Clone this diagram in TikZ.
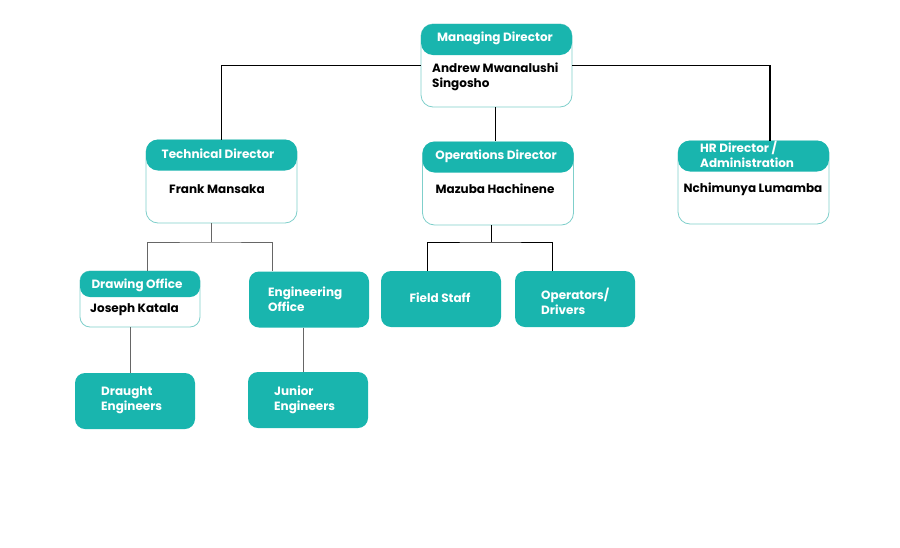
\documentclass[tikz,border=0pt]{standalone}
\usepackage{fontspec}
\setmainfont{Poppins}
\definecolor{teal1}{HTML}{19B5AE}
\definecolor{cardline}{HTML}{7FCFCB}
\definecolor{conn}{HTML}{666666}
\begin{document}
\begin{tikzpicture}[x=1pt,y=-1pt,
  card/.style={draw=cardline, line width=0.8pt, fill=white, rounded corners=12pt, minimum width=151pt, minimum height=83pt, inner sep=0pt},
  head/.style={fill=teal1, rounded corners=12pt, minimum width=151pt, minimum height=31pt, inner sep=0pt},
  smallcard/.style={draw=cardline, line width=0.8pt, fill=white, rounded corners=10pt, minimum width=120pt, minimum height=56pt, inner sep=0pt},
  smallhead/.style={fill=teal1, rounded corners=10pt, minimum width=120pt, minimum height=26pt, inner sep=0pt},
  tealbox/.style={fill=teal1, rounded corners=10pt, minimum width=120pt, minimum height=56pt, inner sep=0pt},
  wtext/.style={text=white, font=\bfseries\fontsize{12}{15}\selectfont, inner sep=0pt, align=left},
  btext/.style={text=black, font=\bfseries\fontsize{12}{15}\selectfont, inner sep=0pt, align=left},
  mainline/.style={draw=black, line width=1.8pt},
  thin/.style={draw=black, line width=1pt},
  subline/.style={draw=conn, line width=1pt}
]
\useasboundingbox (0,0) rectangle (900,547);

% Managing Director
\node[card] (md) at (496.5,65.5) {};
\node[head] (mdh) at (496.5,39.5) {};
\node[wtext] (mdt) at (495,38) {Managing Director};
\node[btext, anchor=west] (mdn) at (432,77) {Andrew Mwanalushi\\Singosho};

% Technical Director
\node[card] (td) at (221.5,181.5) {};
\node[head] (tdh) at (221.5,155) {};
\node[wtext] (tdt) at (218,154) {Technical Director};
\node[btext] (tdn) at (217,189) {Frank Mansaka};

% Operations Director
\node[card] (od) at (498,183.5) {};
\node[head] (odh) at (498,157) {};
\node[wtext] (odt) at (496,156) {Operations Director};
\node[btext] (odn) at (495,189) {Mazuba Hachinene};

% HR Director
\node[card] (hr) at (753.5,182.5) {};
\node[head] (hrh) at (753.5,156) {};
\node[wtext, anchor=west] (hrt) at (700,154) {HR Director /\\Administration};
\node[btext] (hrn) at (753,189) {Nchimunya Lumamba};

% Drawing Office
\node[smallcard] (do) at (140,299) {};
\node[smallhead] (doh) at (140,284) {};
\node[wtext] (dot) at (137,285) {Drawing Office};
\node[btext, anchor=west] (don) at (90,309.5) {Joseph Katala};

% Engineering Office
\node[tealbox] (eo) at (309,299.5) {};
\node[wtext, anchor=west] (eot) at (268,299.5) {Engineering\\Office};

% Field Staff
\node[tealbox] (fs) at (441,299) {};
\node[wtext] (fst) at (440,298) {Field Staff};

% Operators/Drivers
\node[tealbox] (op) at (575,299) {};
\node[wtext, anchor=west] (opt) at (541,301) {Operators/\\Drivers};

% Draught Engineers
\node[tealbox] (de) at (135,401) {};
\node[wtext, anchor=west] (det) at (101,400.5) {Draught\\Engineers};

% Junior Engineers
\node[tealbox] (je) at (308,400) {};
\node[wtext, anchor=west] (jet) at (274,399.5) {Junior\\Engineers};

% connectors
\draw[mainline] (md.west) -| (td.north);
\draw[mainline] (md.east) -| ([xshift=16.5pt]hr.north);
\draw[thin] ([xshift=-1.5pt]md.south) -- ([xshift=-3pt]odh.north);

\coordinate (tbus) at (211,242);
\draw[subline] ([xshift=-10.5pt]td.south) -- (tbus);
\draw[subline] ([xshift=7pt]doh.north) |- (tbus) -| ([xshift=-37pt]eo.north);

\coordinate (obus) at (491,242);
\draw[thin] ([xshift=-7pt]od.south) -- (obus);
\draw[thin] ([xshift=-14pt]fs.north) |- (obus) -| ([xshift=-23pt]op.north);

\draw[subline] ([xshift=-10pt]do.south) -- ([xshift=-5pt]de.north);
\draw[subline] ([xshift=-6pt]eo.south) -- ([xshift=-5pt]je.north);
\end{tikzpicture}
\end{document}
